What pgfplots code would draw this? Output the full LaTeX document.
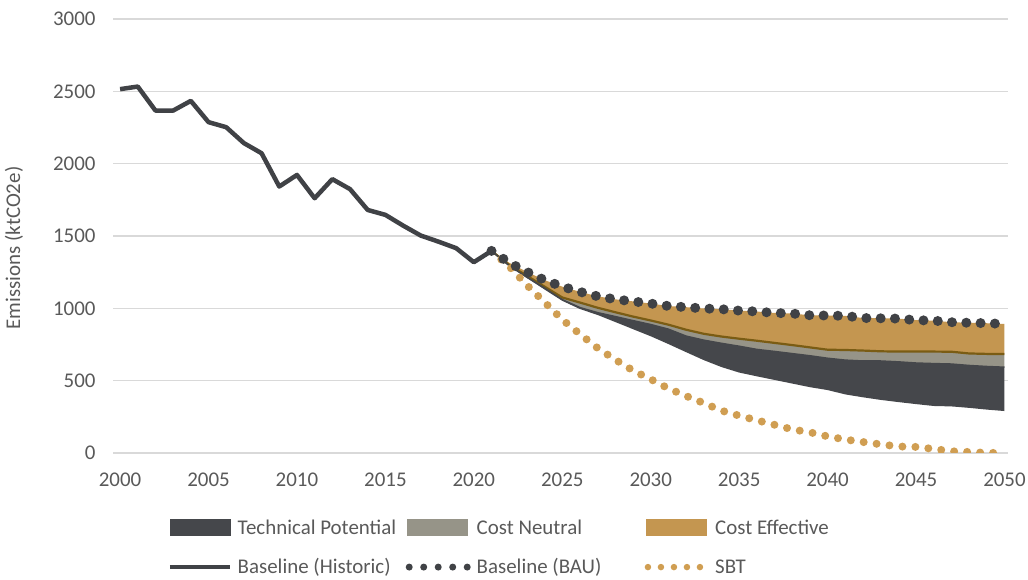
\documentclass[border=0pt]{standalone}
\usepackage{fontspec}
\setmainfont{Carlito}
\usepackage{pgfplots}
\usepackage{pgfplotstable}
\pgfplotsset{compat=1.18}
\usepgfplotslibrary{fillbetween}
\definecolor{txt}{RGB}{89,89,89}
\definecolor{gridc}{RGB}{217,217,217}
\definecolor{darkarea}{RGB}{69,71,75}
\definecolor{greyarea}{RGB}{150,148,136}
\definecolor{goldarea}{RGB}{196,150,80}
\definecolor{brownline}{RGB}{122,92,20}
\definecolor{histc}{RGB}{64,66,70}
\definecolor{bauc}{RGB}{64,66,70}
\definecolor{sbtc}{RGB}{208,158,82}

\pgfplotstableread{
year value
2000 2515
2001 2533
2002 2367
2003 2367
2004 2434
2005 2287
2006 2252
2007 2142
2008 2072
2009 1842
2010 1922
2011 1761
2012 1893
2013 1824
2014 1680
2015 1646
2016 1572
2017 1503
2018 1461
2019 1416
2020 1319
2021 1397
}\historic

\pgfplotstableread{
year bau ce cn tp
2021 1397 1397 1397 1397
2022 1315 1300 1295 1292
2023 1252 1225 1215 1210
2024 1195 1150 1140 1130
2025 1150 1075 1060 1052
2026 1114 1040 1005 995
2027 1083 1004 970 954
2028 1062 973 943 905
2029 1048 943 915 856
2030 1033 916 888 807
2031 1016 887 856 753
2032 1008 852 808 697
2033 999 824 780 642
2034 994 805 758 594
2035 984 790 738 556
2036 978 776 716 530
2037 968 761 702 505
2038 964 746 687 480
2039 952 730 672 455
2040 950 714 655 435
2041 948 712 642 405
2042 933 708 636 385
2043 931 703 636 367
2044 929 701 630 352
2045 918 701 622 338
2046 915 701 618 325
2047 904 700 615 322
2048 900 688 605 312
2049 897 685 598 300
2050 892 685 593 290
}\proj

\pgfplotstableread{
year sbt
2021 1397
2022 1290
2023 1160
2024 1042
2025 922
2026 822
2027 725
2028 645
2029 570
2030 510
2031 446
2032 394
2033 345
2034 293
2035 258
2036 226
2037 195
2038 163
2039 143
2040 115
2041 93
2042 76
2043 60
2044 45
2045 42
2046 28
2047 12
2048 7
2049 1
2050 0
}\sbt

\begin{document}
\begin{tikzpicture}
\begin{axis}[
  at={(113bp,127bp)}, anchor=south west,
  width=895bp, height=434bp, scale only axis,
  xmin=1999.6, xmax=2050.2, ymin=0, ymax=3000,
  axis line style={draw=none},
  tick style={draw=none},
  xtick={2000,2005,...,2050},
  ytick={0,500,...,3000},
  ymajorgrids,
  major grid style={gridc, line width=1.4bp},
  /pgf/number format/assume math mode=true,
  /pgf/number format/1000 sep={},
  ticklabel style={font=\fontsize{21}{25}\selectfont, text=txt},
  yticklabel style={xshift=-14bp},
  xticklabel style={yshift=-16bp},
  ylabel={Emissions (ktCO2e)},
  every axis y label/.style={at={(axis description cs:0,0.5)}, xshift=-99bp, yshift=-12bp, rotate=90, anchor=center, font=\fontsize{21}{25}\selectfont, text=txt},
  legend columns=3,
  legend cell align=left,
  legend style={at={(axis description cs:0.0615,-0.1486)}, anchor=north west, draw=none, fill=none,
    font=\fontsize{21}{25}\selectfont, text=txt, row sep=19bp, inner sep=0pt,
    /tikz/every even column/.append style={column sep=3bp}},
]
\addplot[forget plot, draw=none, name path=bau] table[x=year,y=bau]{\proj};
\addplot[forget plot, draw=none, name path=ce] table[x=year,y=ce]{\proj};
\addplot[forget plot, draw=none, name path=cn] table[x=year,y=cn]{\proj};
\addplot[forget plot, draw=none, name path=tp] table[x=year,y=tp]{\proj};
\addplot[forget plot, fill=goldarea, draw=none] fill between[of=bau and ce];
\addplot[forget plot, fill=greyarea, draw=none] fill between[of=ce and cn];
\addplot[forget plot, fill=darkarea, draw=none] fill between[of=cn and tp];
\addplot[forget plot, no markers, brownline, line width=2.2bp] table[x=year,y=ce]{\proj};
\addplot[forget plot, no markers, darkarea, line width=1.5bp] table[x=year,y=cn]{\proj};
\addplot[forget plot, no markers, sbtc, line width=8bp, line cap=round, dash pattern=on 0bp off 13bp] table[x=year,y=sbt]{\sbt};
\addplot[forget plot, no markers, bauc, line width=10bp, line cap=round, dash pattern=on 0bp off 14.3bp] table[x=year,y=bau]{\proj};
\addplot[forget plot, no markers, histc, line width=4.5bp, line join=round] table[x=year,y=value]{\historic};

\addlegendimage{legend image code/.code={\fill[darkarea] (0bp,-8bp) rectangle (60bp,8bp);}}
\addlegendentry{\makebox[167bp][l]{\hspace{4bp}Technical Potential}}
\addlegendimage{legend image code/.code={\fill[greyarea] (0bp,-8bp) rectangle (60bp,8bp);}}
\addlegendentry{\makebox[167bp][l]{\hspace{4bp}Cost Neutral}}
\addlegendimage{legend image code/.code={\fill[goldarea] (0bp,-8bp) rectangle (60bp,8bp);}}
\addlegendentry{\makebox[167bp][l]{\hspace{4bp}Cost Effective}}
\addlegendimage{legend image code/.code={\draw[histc, line width=3.5bp] (0bp,0bp) -- (60bp,0bp);}}
\addlegendentry{\makebox[167bp][l]{\hspace{4bp}Baseline (Historic)}}
\addlegendimage{legend image code/.code={\draw[bauc, line width=7bp, line cap=round, dash pattern=on 0bp off 14.5bp] (2bp,0bp) -- (60bp,0bp);}}
\addlegendentry{\makebox[167bp][l]{\hspace{4bp}Baseline (BAU)}}
\addlegendimage{legend image code/.code={\draw[sbtc, line width=6.5bp, line cap=round, dash pattern=on 0bp off 13bp] (2bp,0bp) -- (60bp,0bp);}}
\addlegendentry{\makebox[167bp][l]{\hspace{4bp}SBT}}
\end{axis}
\pgfresetboundingbox
\path[use as bounding box] (0,0) rectangle (1028bp,580bp);
\end{tikzpicture}
\end{document}
